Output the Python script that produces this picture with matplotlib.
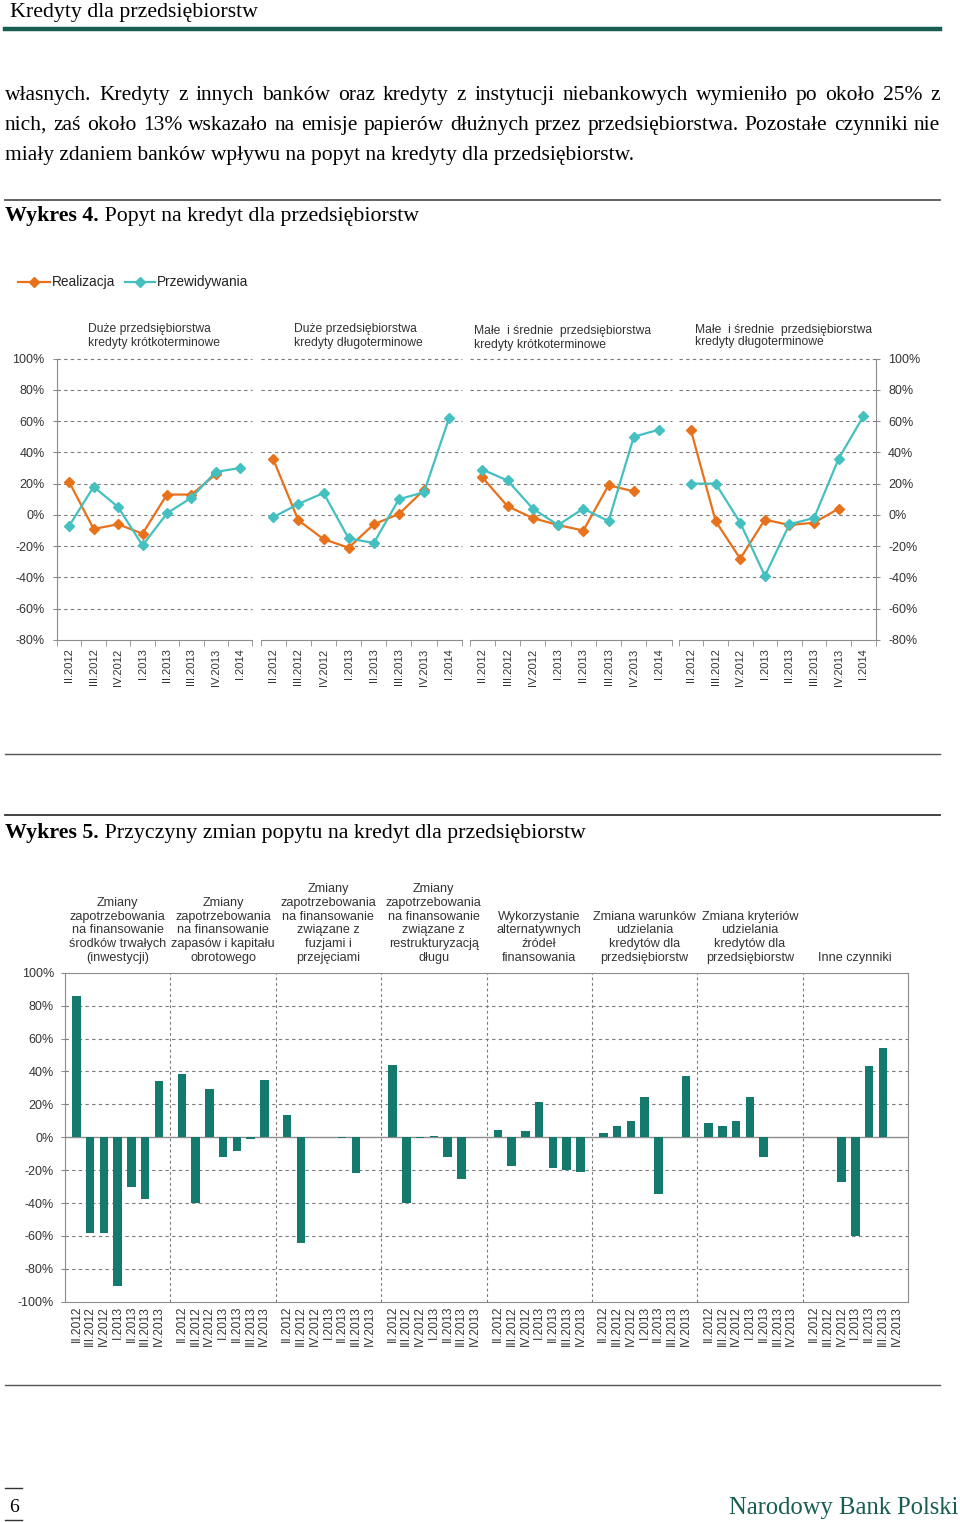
import numpy as np
import matplotlib
matplotlib.use("Agg")
import matplotlib.pyplot as plt
from matplotlib.lines import Line2D

# ---------------- data ----------------
quarters8 = ['II.2012', 'III.2012', 'IV.2012', 'I.2013', 'II.2013', 'III.2013', 'IV.2013', 'I.2014']
panel_titles = ['Duże przedsiębiorstwa\nkredyty krótkoterminowe',
                'Duże przedsiębiorstwa\nkredyty długoterminowe',
                'Małe  i średnie  przedsiębiorstwa\nkredyty krótkoterminowe',
                'Małe  i średnie  przedsiębiorstwa\nkredyty długoterminowe']
real_duze_krotko = [21, -9, -6, -12, 13, 13, 26, np.nan]
prog_duze_krotko = [-7, 18, 5, -19.5, 1, 11, 27.5, 30]
real_duze_dlugo = [35.5, -3.5, -15.5, -21, -6, 0.5, 16, np.nan]
prog_duze_dlugo = [-1.5, 7, 14, -15, -18, 10, 14.5, 62]
real_ms_krotko = [24, 5.5, -2, -6.5, -10, 19, 15, np.nan]
prog_ms_krotko = [29, 22, 4, -6.5, 4, -4, 50, 54.5]
real_ms_dlugo = [54, -4, -28, -3, -6.5, -5, 4, np.nan]
prog_ms_dlugo = [20, 20, -5, -39, -6, -2, 36, 63]

quarters7 = ['II.2012', 'III.2012', 'IV.2012', 'I.2013', 'II.2013', 'III.2013', 'IV.2013']
factor_titles = ['Zmiany\nzapotrzebowania\nna finansowanie\nśrodków trwałych\n(inwestycji)',
                 'Zmiany\nzapotrzebowania\nna finansowanie\nzapasów i kapitału\nobrotowego',
                 'Zmiany\nzapotrzebowania\nna finansowanie\nzwiązane z\nfuzjami i\nprzejęciami',
                 'Zmiany\nzapotrzebowania\nna finansowanie\nzwiązane z\nrestrukturyzacją\ndługu',
                 'Wykorzystanie\nalternatywnych\nźródeł\nfinansowania',
                 'Zmiana warunków\nudzielania\nkredytów dla\nprzedsiębiorstw',
                 'Zmiana kryteriów\nudzielania\nkredytów dla\nprzedsiębiorstw',
                 'Inne czynniki']
inwestycje = [86, -58, -58, -90.5, -30, -37.5, 34]
zapasy = [38.5, -40, 29, -12, -8.5, -1.3, 35]
fuzje = [13.5, -64.5, 0, 0.4, -0.5, -21.5, 0]
restrukturyzacja = [44, -40, -0.5, 1, -12, -25.5, 0]
alternatywne = [4.5, -17.5, 3.5, 21.5, -19, -20, -21]
warunki = [2.8, 6.7, 10, 24.5, -34.5, 0.4, 37.5]
kryteria = [8.7, 6.7, 10, 24.5, -12, 0, 0]
inne = [0, 0, -27.5, -60, 43.5, 54.5, 0]

# ---------------- figure ----------------
W, H = 960, 1522
fig = plt.figure(figsize=(W / 100, H / 100), dpi=100)
renderer = fig.canvas.get_renderer()

def fx(x):
    return x / W

def fy(y):
    return 1 - y / H

SERIF = ['Liberation Serif', 'DejaVu Serif']
SANS = ['Liberation Sans', 'DejaVu Sans']
TXT = '#333333'
ORANGE = '#e8711c'
TEAL = '#43c0bf'
BAR = '#137a6d'
DARKTEAL = '#175d52'

def hline(y, x0, x1, color, lw):
    fig.add_artist(Line2D([fx(x0), fx(x1)], [fy(y), fy(y)], color=color, lw=lw,
                          transform=fig.transFigure))

def width_of(s, size, family, weight='normal'):
    t = fig.text(0, 0, s, fontsize=size, family=family, weight=weight)
    w = t.get_window_extent(renderer).width
    t.remove()
    return w

def fit_size(s, width, family, weight='normal'):
    return 20 * width / width_of(s, 20, family, weight)

def justify(line, x0, x1, y, size, family, color='black'):
    words = line.split(' ')
    texts = [fig.text(0, fy(y), w, fontsize=size, family=family, va='baseline', color=color)
             for w in words]
    widths = [t.get_window_extent(renderer).width for t in texts]
    gap = (x1 - x0 - sum(widths)) / (len(words) - 1)
    x = x0
    for t, w in zip(texts, widths):
        t.set_x(fx(x))
        x += w + gap

# header
hs = fit_size('Kredyty dla przedsiębiorstw', 248, SERIF)
fig.text(fx(10), fy(17), 'Kredyty dla przedsiębiorstw', fontsize=hs, family=SERIF, va='baseline')
hline(29, 5, 940, DARKTEAL, 3.2)

# body text
L1 = 'własnych. Kredyty z innych banków oraz kredyty z instytucji niebankowych wymieniło po około 25% z'
L2 = 'nich, zaś około 13% wskazało na emisje papierów dłużnych przez przedsiębiorstwa. Pozostałe czynniki nie'
L3 = 'miały zdaniem banków wpływu na popyt na kredyty dla przedsiębiorstw.'
bs = min(fit_size(L3, 646, SERIF), fit_size(L1, 925, SERIF), fit_size(L2, 925, SERIF))
justify(L1, 5, 940, 100, bs, SERIF)
justify(L2, 5, 940, 130, bs, SERIF)
fig.text(fx(5), fy(160), L3, fontsize=bs, family=SERIF, va='baseline')

# Wykres 4 caption
hline(199.5, 5, 940, '#555555', 1.3)
cap = 'Wykres 4. Popyt na kredyt dla przedsiębiorstw'
cs = fit_size(cap, 409, SERIF)
wb = width_of('Wykres 4.', cs, SERIF, 'bold')
fig.text(fx(5), fy(221), 'Wykres 4.', fontsize=cs, family=SERIF, weight='bold', va='baseline')
fig.text(fx(5) + wb / W, fy(221), ' Popyt na kredyt dla przedsiębiorstw', fontsize=cs,
         family=SERIF, va='baseline')

# legend
for (xa, xb, col, lab) in [(18, 50, ORANGE, 'Realizacja'), (125, 155, TEAL, 'Przewidywania')]:
    fig.add_artist(Line2D([fx(xa), fx(xb)], [fy(282), fy(282)], color=col, lw=1.6,
                          transform=fig.transFigure))
    fig.add_artist(Line2D([fx((xa + xb) / 2)], [fy(282)], color=col, marker='D', ms=5,
                          transform=fig.transFigure))
    fig.text(fx(xb + 2), fy(282), lab, fontsize=9.8, family=SANS, va='center', color='#222222')

# ---------------- chart 1 ----------------
panels = [(57, 252.5), (260.7, 461.7), (469.7, 671.7), (678.7, 875.6)]
title_pos = [(88, 336, 1.15), (294, 336, 1.15), (474, 338, 1.15), (695, 336, 0.9)]
series = [(real_duze_krotko, prog_duze_krotko), (real_duze_dlugo, prog_duze_dlugo),
          (real_ms_krotko, prog_ms_krotko), (real_ms_dlugo, prog_ms_dlugo)]
ytop, ybot = 358.5, 640
x8 = np.arange(len(quarters8))
yt = np.arange(-80, 101, 20)
for i, ((xa, xb), (real, prog)) in enumerate(zip(panels, series)):
    ax = fig.add_axes([fx(xa), fy(ybot), (xb - xa) / W, (ybot - ytop) / H])
    ax.set_xlim(-0.5, 7.5)
    ax.set_ylim(-80, 100)
    for v in yt[1:]:
        ax.axhline(v, color='#7a7a7a', lw=0.8, ls=(0, (3, 3)), clip_on=False, zorder=1)
    ax.plot(x8, real, color=ORANGE, lw=1.6, marker='D', ms=5.5, zorder=3, clip_on=False)
    ax.plot(x8, prog, color=TEAL, lw=1.6, marker='D', ms=5.5, zorder=4, clip_on=False)
    for s in ['top', 'left', 'right']:
        ax.spines[s].set_visible(False)
    ax.spines['bottom'].set_color('#8c8c8c')
    ax.set_xticks(x8)
    ax.set_xticklabels(quarters8, rotation=90, fontsize=8, family=SANS, color=TXT)
    ax.set_xticks(np.arange(-0.5, 8, 1), minor=True)
    ax.tick_params(axis='x', which='major', length=0, pad=6)
    ax.tick_params(axis='x', which='minor', length=4, color='#8c8c8c', direction='out')
    ax.set_yticks(yt)
    ax.set_yticklabels([f'{v}%' for v in yt], fontsize=9, family=SANS, color=TXT)
    if i == 0:
        ax.spines['left'].set_visible(True)
        ax.spines['left'].set_color('#8c8c8c')
        ax.tick_params(axis='y', length=3, color='#8c8c8c', pad=6)
    elif i == 3:
        ax.spines['right'].set_visible(True)
        ax.spines['right'].set_color('#8c8c8c')
        ax.yaxis.tick_right()
        ax.tick_params(axis='y', length=3, color='#8c8c8c', pad=6)
    else:
        ax.tick_params(axis='y', left=False, labelleft=False)
    tx, ty, ls = title_pos[i]
    fig.text(fx(tx), fy(ty), panel_titles[i], fontsize=8.7, family=SANS, color=TXT,
             va='center', ha='left', linespacing=ls)

# separators
hline(753.5, 5, 940, '#555555', 1.0)
hline(815.5, 5, 940, '#333333', 1.3)
wb5 = width_of('Wykres 5.', cs, SERIF, 'bold')
fig.text(fx(5), fy(838), 'Wykres 5.', fontsize=cs, family=SERIF, weight='bold', va='baseline')
fig.text(fx(5) + wb5 / W, fy(838), ' Przyczyny zmian popytu na kredyt dla przedsiębiorstw',
         fontsize=cs, family=SERIF, va='baseline')

# ---------------- chart 2 ----------------
groups = [inwestycje, zapasy, fuzje, restrukturyzacja, alternatywne, warunki, kryteria, inne]
c2x0, c2x1, c2y0, c2y1 = 65, 908, 972.7, 1301.7
ax2 = fig.add_axes([fx(c2x0), fy(c2y1), (c2x1 - c2x0) / W, (c2y1 - c2y0) / H])
ax2.set_xlim(0, len(groups))
ax2.set_ylim(-100, 100)
for v in range(-80, 100, 20):
    if v == 0:
        continue
    ax2.axhline(v, color='#7a7a7a', lw=0.8, ls=(0, (3, 3)), zorder=1)
for g in range(1, len(groups)):
    ax2.axvline(g, color='#7a7a7a', lw=0.8, ls=(0, (2.5, 2.5)), zorder=1)
offsets = 0.1087 + 0.1305 * np.arange(len(quarters7))
xs, labs = [], []
for g, vals in enumerate(groups):
    pos = g + offsets
    ax2.bar(pos, vals, width=0.08, color=BAR, zorder=3)
    xs.extend(pos)
    labs.extend(quarters7)
    fig.text(fx(c2x0 + (g + 0.5) * (c2x1 - c2x0) / len(groups)), fy(964), factor_titles[g],
             fontsize=9.1, family=SANS, color=TXT, ha='center', va='bottom',
             multialignment='center', linespacing=1.2)
ax2.axhline(0, color='#8c8c8c', lw=1.0, zorder=2)
for s in ax2.spines.values():
    s.set_color('#8c8c8c')
ax2.set_xticks(xs)
ax2.set_xticklabels(labs, rotation=90, fontsize=8.6, family=SANS, color=TXT)
ax2.tick_params(axis='x', length=0, pad=3)
yt2 = np.arange(-100, 101, 20)
ax2.set_yticks(yt2)
ax2.set_yticklabels([f'{v}%' for v in yt2], fontsize=9, family=SANS, color=TXT)
ax2.tick_params(axis='y', length=3, color='#8c8c8c', pad=5)

hline(1384.5, 5, 940, '#555555', 1.0)

# footer
hline(1488, 5, 22, '#333333', 1.0)
hline(1520, 5, 22, '#333333', 1.0)
fig.text(fx(13.5), fy(1512), '6', fontsize=14, family=SERIF, ha='center', va='baseline')
fs_f = fit_size('Narodowy Bank Polski', 230, SERIF)
fig.text(fx(958), fy(1514), 'Narodowy Bank Polski', fontsize=fs_f, family=SERIF,
         ha='right', va='baseline', color=DARKTEAL)

fig.savefig('out.png', dpi=100)
